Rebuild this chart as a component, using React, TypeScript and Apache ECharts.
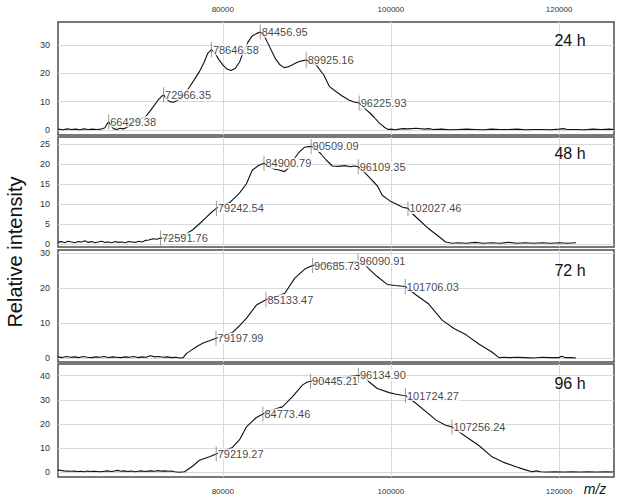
import React, { useEffect, useRef } from "react";
import * as echarts from "echarts";

// m/z range shown on every panel
const mzMin = 60404;
const mzMax = 126532;
const mzTicks = ["80000", "100000", "120000"];

const panelNames = ["24 h", "48 h", "72 h", "96 h"];

// spectra: [m/z, relative intensity]
const spectrum24: number[][] = [
  [60400, 0.3], [61000, 0.1], [61500, 0.4], [62000, 0.2], [62500, 0.3], [63000, 0.1], [63500, 0.4], [64000, 0.2],
  [64500, 0.3], [65000, 0.2], [65500, 0.3], [66000, 0.8], [66200, 2.0], [66429, 2.9], [66700, 1.5], [67000, 0.5],
  [67400, 0.2], [67800, 0.6], [68200, 0.4], [68800, 1.2], [69400, 2.6], [70000, 3.6], [70800, 4.6], [71300, 6.5],
  [71800, 8.5], [72300, 10.5], [72700, 11.8], [72966, 12.4], [73300, 11.0], [73700, 10.0], [74100, 9.8], [74500, 10.3],
  [75300, 12.0], [76000, 15.0], [76600, 17.7], [77200, 20.5], [77800, 24.0], [78200, 27.0], [78646, 28.3], [79000, 27.5],
  [79500, 25.0], [80000, 23.0], [80500, 21.5], [81000, 21.0], [81500, 21.8], [82000, 24.0], [82500, 28.0], [83000, 31.0],
  [83500, 33.2], [84000, 34.0], [84456, 34.6], [84900, 33.5], [85300, 31.0], [85800, 28.0], [86300, 25.0], [86800, 23.0],
  [87300, 22.0], [87800, 22.3], [88300, 23.0], [88800, 23.8], [89400, 24.4], [89925, 24.7], [90400, 24.0], [91100, 23.0],
  [92000, 19.5], [92700, 15.3], [93500, 13.5], [94200, 12.0], [95000, 10.6], [95600, 9.9], [96226, 9.5], [96800, 8.0],
  [97100, 7.0], [97500, 6.0], [98000, 4.5], [98600, 2.5], [99300, 0.8], [99700, 0.2], [100000, 0.3], [100500, 0.1],
  [101000, 0.3], [101500, 0.5], [102000, 0.4], [103000, 0.6], [104000, 0.3], [104500, 0.5], [105000, 0.2], [106000, 0.3],
  [107000, 0.1], [108000, 0.2], [109000, 0.3], [110000, 0.2], [111000, 0.1], [112000, 0.3], [113000, 0.2], [114000, 0.2],
  [115000, 0.3], [116000, 0.1], [117000, 0.2], [118000, 0.2], [119000, 0.1], [120000, 0.3], [120500, 0.5], [121000, 0.2],
  [122000, 0.2], [123000, 0.1], [124000, 0.3], [125000, 0.2], [126000, 0.3], [126500, 0.2],
];

const spectrum48: number[][] = [
  [60400, 0.4], [60800, 0.6], [61200, 0.3], [61600, 0.7], [62000, 0.5], [62400, 0.3], [62800, 0.6], [63200, 0.5],
  [63600, 0.8], [64000, 0.4], [64400, 0.6], [64800, 0.3], [65200, 0.5], [65600, 0.7], [66000, 0.4], [66400, 0.5],
  [66800, 0.3], [67200, 0.6], [67600, 0.4], [68000, 0.5], [68400, 0.3], [68800, 0.6], [69200, 0.5], [69600, 0.4],
  [70000, 0.7], [70400, 0.5], [70800, 0.9], [71200, 1.0], [71700, 1.3], [72200, 1.2], [72592, 1.5], [73200, 1.4],
  [74000, 1.3], [74800, 1.5], [75500, 2.2], [76000, 3.0], [76400, 3.5], [77200, 5.0], [78063, 6.7], [78700, 8.0],
  [79243, 8.9], [79800, 9.6], [80795, 10.3], [81980, 12.7], [82800, 15.0], [83525, 18.5], [84300, 19.7], [84901, 20.2],
  [85500, 19.3], [86160, 18.7], [86700, 18.5], [87350, 18.1], [87800, 19.0], [88400, 21.0], [89009, 22.8], [89722, 24.2],
  [90509, 24.4], [91000, 24.0], [91685, 22.5], [92300, 21.0], [93027, 19.5], [93800, 19.4], [94500, 19.6], [95200, 19.3],
  [95600, 19.5], [96109, 19.3], [96600, 18.5], [97184, 17.2], [98400, 14.5], [98967, 12.2], [100000, 10.6], [100630, 10.0],
  [101400, 9.2], [102027, 8.9], [102600, 7.5], [103360, 6.0], [104500, 3.8], [105735, 1.8], [106500, 0.5], [107280, 0.2],
  [108000, 0.3], [109000, 0.2], [110000, 0.4], [111000, 0.2], [112000, 0.3], [113000, 0.2], [114000, 0.4], [115000, 0.2],
  [116000, 0.3], [117000, 0.2], [118000, 0.3], [119000, 0.2], [120000, 0.3], [121000, 0.2], [122000, 0.3],
];

const spectrum72: number[][] = [
  [60400, 0.4], [60900, 0.2], [61400, 0.5], [61900, 0.3], [62400, 0.4], [62900, 0.2], [63400, 0.5], [63900, 0.3],
  [64400, 0.2], [64900, 0.4], [65400, 0.3], [65900, 0.5], [66400, 0.2], [66900, 0.4], [67400, 0.3], [67900, 0.2],
  [68400, 0.4], [68900, 0.3], [69400, 0.5], [69900, 0.2], [70400, 0.4], [70900, 0.3], [71400, 0.7], [71900, 0.4],
  [72400, 0.5], [72900, 0.3], [73400, 0.4], [73900, 0.2], [74400, 0.3], [74900, 0.1], [75300, 0.2], [75700, 1.4],
  [76500, 2.7], [77232, 3.8], [77800, 4.5], [78420, 5.0], [79198, 5.7], [79800, 6.2], [80500, 6.8], [81150, 7.4],
  [82000, 9.3], [82813, 11.4], [84000, 15.2], [84600, 16.0], [85133, 16.7], [85700, 17.2], [86500, 17.8], [87380, 18.6],
  [88568, 22.9], [89756, 25.5], [90200, 26.0], [90686, 26.5], [91500, 26.8], [92500, 27.0], [93500, 27.2], [94500, 27.3],
  [95300, 27.6], [96091, 27.8], [96800, 27.0], [97421, 25.5], [98300, 23.5], [99554, 21.1], [100500, 20.8], [101706, 20.5],
  [103003, 18.1], [104500, 15.5], [106091, 10.9], [107500, 8.5], [108940, 6.7], [110500, 4.0], [112000, 1.8], [112860, 0.2],
  [113500, 0.3], [114000, 0.2], [115000, 0.3], [116000, 0.2], [117000, 0.1], [118000, 0.3], [119000, 0.2], [120000, 0.2],
  [120300, 0.6], [120700, 0.2], [121500, 0.2], [122000, 0.1],
];

const spectrum96: number[][] = [
  [60400, 1.0], [60700, 0.8], [61100, 0.6], [61500, 0.5], [61900, 0.4], [62300, 0.5], [62700, 0.3], [63100, 0.4],
  [63500, 0.2], [63900, 0.5], [64300, 0.3], [64700, 0.4], [65100, 0.3], [65500, 0.2], [65900, 0.4], [66300, 0.6],
  [66700, 0.3], [67100, 0.5], [67500, 0.8], [67900, 0.4], [68300, 0.6], [68700, 0.3], [69100, 0.5], [69500, 0.2],
  [69900, 0.4], [70300, 0.6], [70700, 0.3], [71100, 0.5], [71500, 0.6], [71900, 0.4], [72300, 0.7], [72700, 0.5],
  [73100, 0.6], [73500, 0.4], [73900, 0.5], [74300, 0.2], [74800, 0.0], [75448, 0.2], [76400, 2.5], [77232, 5.0],
  [78420, 6.4], [79219, 7.6], [80000, 8.8], [81150, 10.3], [82000, 13.5], [82813, 18.8], [84000, 22.7], [84773, 24.1],
  [85500, 25.5], [86300, 26.3], [87089, 27.1], [88278, 31.2], [89466, 36.1], [90000, 37.3], [90445, 37.7], [91300, 38.0],
  [92300, 38.3], [93300, 38.8], [94300, 39.3], [95300, 39.8], [96135, 40.2], [96800, 39.5], [97421, 37.4], [98371, 34.7],
  [99800, 33.0], [100500, 32.4], [101335, 31.9], [101724, 31.8], [103003, 28.5], [105378, 21.6], [106500, 19.5], [107256, 18.8],
  [108940, 14.7], [110500, 11.0], [112027, 6.4], [113500, 4.0], [114877, 2.3], [116000, 1.0], [116777, 0.2], [117300, 0.6],
  [117800, 0.2], [118500, 0.1], [119500, 0.2], [120500, 0.1], [121500, 0.2], [122500, 0.1], [123500, 0.2], [124500, 0.1],
  [125500, 0.2], [126500, 0.1],
];

// annotated peaks (m/z) and the intensity at each
const peaks24 = [66429.38, 72966.35, 78646.58, 84456.95, 89925.16, 96225.93];
const peakInt24 = [2.9, 12.4, 28.3, 34.6, 24.7, 9.5];
const peaks48 = [72591.76, 79242.54, 84900.79, 90509.09, 96109.35, 102027.46];
const peakInt48 = [1.5, 8.9, 20.2, 24.4, 19.3, 8.9];
const peaks72 = [79197.99, 85133.47, 90685.73, 96090.91, 101706.03];
const peakInt72 = [5.7, 16.7, 26.5, 27.8, 20.5];
const peaks96 = [79219.27, 84773.46, 90445.21, 96134.9, 101724.27, 107256.24];
const peakInt96 = [7.6, 24.1, 37.7, 40.2, 31.8, 18.8];

// y extents and tick steps per panel
const yMins = [-1.76, -0.75, -1.06, -1.95];
const yMaxs = [38.1, 26.75, 30.94, 44.85];
const ySteps = [10, 5, 10, 10];

const FONT = 'Arial, "Liberation Sans", sans-serif';

export default function App() {
  const ref = useRef<HTMLDivElement>(null);
  useEffect(() => {
    if (!ref.current) return;
    const chart = echarts.init(ref.current, null, { renderer: "svg" });
    const spectra = [spectrum24, spectrum48, spectrum72, spectrum96];
    const peaks = [peaks24, peaks48, peaks72, peaks96];
    const peakInts = [peakInt24, peakInt48, peakInt72, peakInt96];
    const tops = [22, 137, 250, 364];
    const heights = [113, 110, 112, 113];
    const labelY = [40, 153, 270, 383];

    const grids = tops.map((t, i) => ({
      left: 58,
      right: 10,
      top: t,
      height: heights[i],
      show: true,
      borderColor: "#4d4d4d",
      borderWidth: 1.5,
      backgroundColor: "#fff",
    }));

    const xAxes = tops.map((_, i) => ({
      type: "value",
      gridIndex: i,
      min: mzMin,
      max: mzMax,
      minInterval: 20000,
      maxInterval: 20000,
      position: i === 0 ? "top" : "bottom",
      axisLine: { show: false },
      axisTick: { show: false },
      axisLabel: {
        show: i === 0 || i === 3,
        showMinLabel: false,
        showMaxLabel: false,
        fontSize: 8,
        color: "#333",
        fontFamily: FONT,
        margin: i === 0 ? 9 : 10,
        formatter: (v: number) => (mzTicks.includes(String(v)) ? String(v) : ""),
      },
      splitLine: {
        show: true,
        showMinLine: false,
        showMaxLine: false,
        lineStyle: { color: "#d9d9d9", width: 1 },
      },
    }));

    const yAxes = tops.map((_, i) => ({
      type: "value",
      gridIndex: i,
      min: yMins[i],
      max: yMaxs[i],
      minInterval: ySteps[i],
      maxInterval: ySteps[i],
      axisLine: { show: false },
      axisTick: { show: false },
      axisLabel: {
        showMinLabel: false,
        showMaxLabel: false,
        fontSize: 9,
        color: "#333",
        fontFamily: FONT,
        margin: 8,
        formatter: (v: number) => String(Math.round(v)),
      },
      splitLine: {
        show: true,
        showMinLine: false,
        showMaxLine: false,
        lineStyle: { color: "#d9d9d9", width: 1 },
      },
    }));

    const series: any[] = [];
    spectra.forEach((s, i) => {
      series.push({
        type: "line",
        xAxisIndex: i,
        yAxisIndex: i,
        data: s,
        showSymbol: false,
        symbol: "none",
        lineStyle: { color: "#111", width: 1.1 },
        z: 2,
      });
    });
    peaks.forEach((p, i) => {
      series.push({
        type: "scatter",
        xAxisIndex: i,
        yAxisIndex: i,
        data: p.map((m, j) => [m, peakInts[i][j]]),
        symbol: "rect",
        symbolSize: [1, 15],
        itemStyle: { color: "#808080" },
        z: 3,
        label: {
          show: true,
          position: "right",
          distance: 1,
          fontSize: 11,
          fontFamily: FONT,
          color: "#111",
          textBorderWidth: 0,
          backgroundColor: "#fff",
          padding: [0, 0],
          formatter: (d: any) => d.value[0].toFixed(2),
        },
      });
    });

    const graphics: any[] = [
      {
        type: "text",
        x: 15,
        y: 252,
        rotation: Math.PI / 2,
        style: {
          text: "Relative intensity",
          fontSize: 20,
          fontFamily: FONT,
          fill: "#111",
          textAlign: "center",
          textVerticalAlign: "middle",
        },
      },
      {
        type: "text",
        x: 595,
        y: 489,
        style: {
          text: "m/z",
          fontSize: 14,
          fontStyle: "italic",
          fontFamily: FONT,
          fill: "#111",
          textAlign: "center",
          textVerticalAlign: "middle",
        },
      },
      ...panelNames.map((n, i) => ({
        type: "text",
        x: 570,
        y: labelY[i],
        z: 10,
        style: {
          text: n,
          fontSize: 16,
          fontFamily: FONT,
          fill: "#111",
          textAlign: "center",
          textVerticalAlign: "middle",
        },
      })),
    ];

    chart.setOption({
      animation: false,
      backgroundColor: "#fff",
      grid: grids,
      xAxis: xAxes,
      yAxis: yAxes,
      series,
      graphic: graphics,
    });
    return () => chart.dispose();
  }, []);
  return (
    <div
      ref={ref}
      style={{ position: "fixed", left: 0, top: 0, width: 624, height: 503 }}
    />
  );
}
